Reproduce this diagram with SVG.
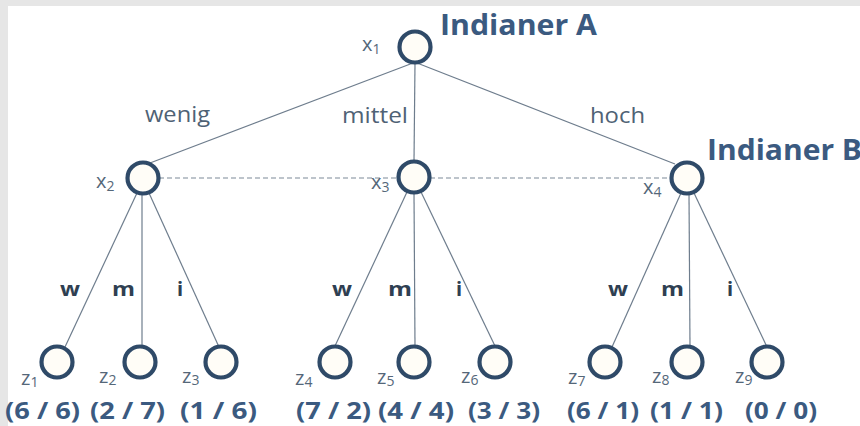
<svg xmlns="http://www.w3.org/2000/svg" width="860" height="426" viewBox="0 0 860 426">
<defs>
<style>
.edge{stroke:#6e7d8d;stroke-width:1.2;fill:none}
.dash{stroke:#7d8a97;stroke-width:1.2;stroke-dasharray:5 3;fill:none}
.node{fill:#fffdf7;stroke:#2f4a68;stroke-width:4.2}
.lbl{font-family:"Open Sans","Liberation Sans",Arial,sans-serif;font-size:20px;fill:#556779}
.sub{font-size:14px}
.act{font-family:"Open Sans","Liberation Sans",Arial,sans-serif;font-size:21px;fill:#4f6275}
.mv{font-family:"Open Sans","Liberation Sans",Arial,sans-serif;font-size:20px;font-weight:bold;fill:#2f3f52}
.pl{font-family:"Open Sans","Liberation Sans",Arial,sans-serif;font-size:28px;font-weight:bold;fill:#3b5a80}
.pay{font-family:"Open Sans","Liberation Sans",Arial,sans-serif;font-size:24px;font-weight:bold;fill:#3b5a80}
</style>
</defs>
<rect x="0" y="0" width="860" height="426" fill="#ffffff"/>
<rect x="0" y="0" width="860" height="6" fill="#e6e6e6"/>
<rect x="0" y="0" width="8" height="426" fill="#e6e6e6"/>

<g id="connectors">
<line class="edge" x1="413" y1="63" x2="150" y2="163"/>
<line class="edge" x1="415" y1="63" x2="414" y2="161"/>
<line class="edge" x1="417" y1="63" x2="675" y2="164"/>
<line class="edge" x1="137" y1="193" x2="65" y2="347"/>
<line class="edge" x1="142" y1="194" x2="142" y2="346"/>
<line class="edge" x1="149" y1="193" x2="219" y2="347"/>
<line class="edge" x1="407" y1="192" x2="335" y2="346"/>
<line class="edge" x1="414" y1="193" x2="415" y2="346"/>
<line class="edge" x1="421" y1="192" x2="495" y2="346"/>
<line class="edge" x1="681" y1="193" x2="612" y2="347"/>
<line class="edge" x1="689" y1="194" x2="690" y2="346"/>
<line class="edge" x1="694" y1="193" x2="767" y2="347"/>
<line class="dash" x1="159" y1="178" x2="398" y2="178"/>
<line class="dash" x1="430" y1="178" x2="671" y2="178"/>
<text class="act" x="145" y="122" textLength="65" lengthAdjust="spacingAndGlyphs">wenig</text>
<text class="act" x="342" y="123" textLength="66" lengthAdjust="spacingAndGlyphs">mittel</text>
<text class="act" x="590" y="123" textLength="55" lengthAdjust="spacingAndGlyphs">hoch</text>
<text class="mv" x="60" y="296" textLength="20" lengthAdjust="spacingAndGlyphs">w</text>
<text class="mv" x="112" y="296" textLength="23" lengthAdjust="spacingAndGlyphs">m</text>
<text class="mv" x="177" y="296">i</text>
<text class="mv" x="332" y="296" textLength="20" lengthAdjust="spacingAndGlyphs">w</text>
<text class="mv" x="388" y="296" textLength="24" lengthAdjust="spacingAndGlyphs">m</text>
<text class="mv" x="456" y="296">i</text>
<text class="mv" x="608" y="296" textLength="20" lengthAdjust="spacingAndGlyphs">w</text>
<text class="mv" x="661" y="296" textLength="23" lengthAdjust="spacingAndGlyphs">m</text>
<text class="mv" x="727" y="296">i</text>
</g>

<g id="x1"><circle class="node" cx="415" cy="47" r="15.5"/><text class="lbl" x="362" y="51">x<tspan class="sub" dy="3">1</tspan></text><text class="pl" x="440" y="35" textLength="157" lengthAdjust="spacingAndGlyphs">Indianer A</text></g>
<g id="x2"><circle class="node" cx="143" cy="178" r="15.5"/><text class="lbl" x="96" y="188">x<tspan class="sub" dy="3">2</tspan></text></g>
<g id="x3"><circle class="node" cx="414" cy="177" r="15.5"/><text class="lbl" x="371" y="189">x<tspan class="sub" dy="3">3</tspan></text></g>
<g id="x4"><circle class="node" cx="687" cy="178" r="15.5"/><text class="lbl" x="643" y="194">x<tspan class="sub" dy="3">4</tspan></text><text class="pl" x="707" y="160" textLength="155" lengthAdjust="spacingAndGlyphs">Indianer B</text></g>

<g id="z1"><circle class="node" cx="57" cy="362" r="15.5"/><text class="lbl" x="21" y="385">z<tspan class="sub" dy="2">1</tspan></text><text class="pay" x="5" y="419" textLength="75" lengthAdjust="spacingAndGlyphs">(6 / 6)</text></g>
<g id="z2"><circle class="node" cx="140" cy="362" r="15.5"/><text class="lbl" x="99" y="383">z<tspan class="sub" dy="2">2</tspan></text><text class="pay" x="90" y="419" textLength="75" lengthAdjust="spacingAndGlyphs">(2 / 7)</text></g>
<g id="z3"><circle class="node" cx="221" cy="362" r="15.5"/><text class="lbl" x="182" y="383">z<tspan class="sub" dy="2">3</tspan></text><text class="pay" x="180" y="419" textLength="77" lengthAdjust="spacingAndGlyphs">(1 / 6)</text></g>
<g id="z4"><circle class="node" cx="335" cy="362" r="15.5"/><text class="lbl" x="295" y="385">z<tspan class="sub" dy="2">4</tspan></text><text class="pay" x="296" y="419" textLength="75" lengthAdjust="spacingAndGlyphs">(7 / 2)</text></g>
<g id="z5"><circle class="node" cx="414" cy="362" r="15.5"/><text class="lbl" x="377" y="384">z<tspan class="sub" dy="2">5</tspan></text><text class="pay" x="378" y="419" textLength="76" lengthAdjust="spacingAndGlyphs">(4 / 4)</text></g>
<g id="z6"><circle class="node" cx="495" cy="362" r="15.5"/><text class="lbl" x="461" y="383">z<tspan class="sub" dy="2">6</tspan></text><text class="pay" x="468" y="419" textLength="72" lengthAdjust="spacingAndGlyphs">(3 / 3)</text></g>
<g id="z7"><circle class="node" cx="605" cy="362" r="15.5"/><text class="lbl" x="568" y="384">z<tspan class="sub" dy="2">7</tspan></text><text class="pay" x="567" y="419" textLength="72" lengthAdjust="spacingAndGlyphs">(6 / 1)</text></g>
<g id="z8"><circle class="node" cx="687" cy="362" r="15.5"/><text class="lbl" x="652" y="383">z<tspan class="sub" dy="2">8</tspan></text><text class="pay" x="650" y="419" textLength="73" lengthAdjust="spacingAndGlyphs">(1 / 1)</text></g>
<g id="z9"><circle class="node" cx="767" cy="362" r="15.5"/><text class="lbl" x="735" y="383">z<tspan class="sub" dy="2">9</tspan></text><text class="pay" x="745" y="419" textLength="72" lengthAdjust="spacingAndGlyphs">(0 / 0)</text></g>
</svg>
